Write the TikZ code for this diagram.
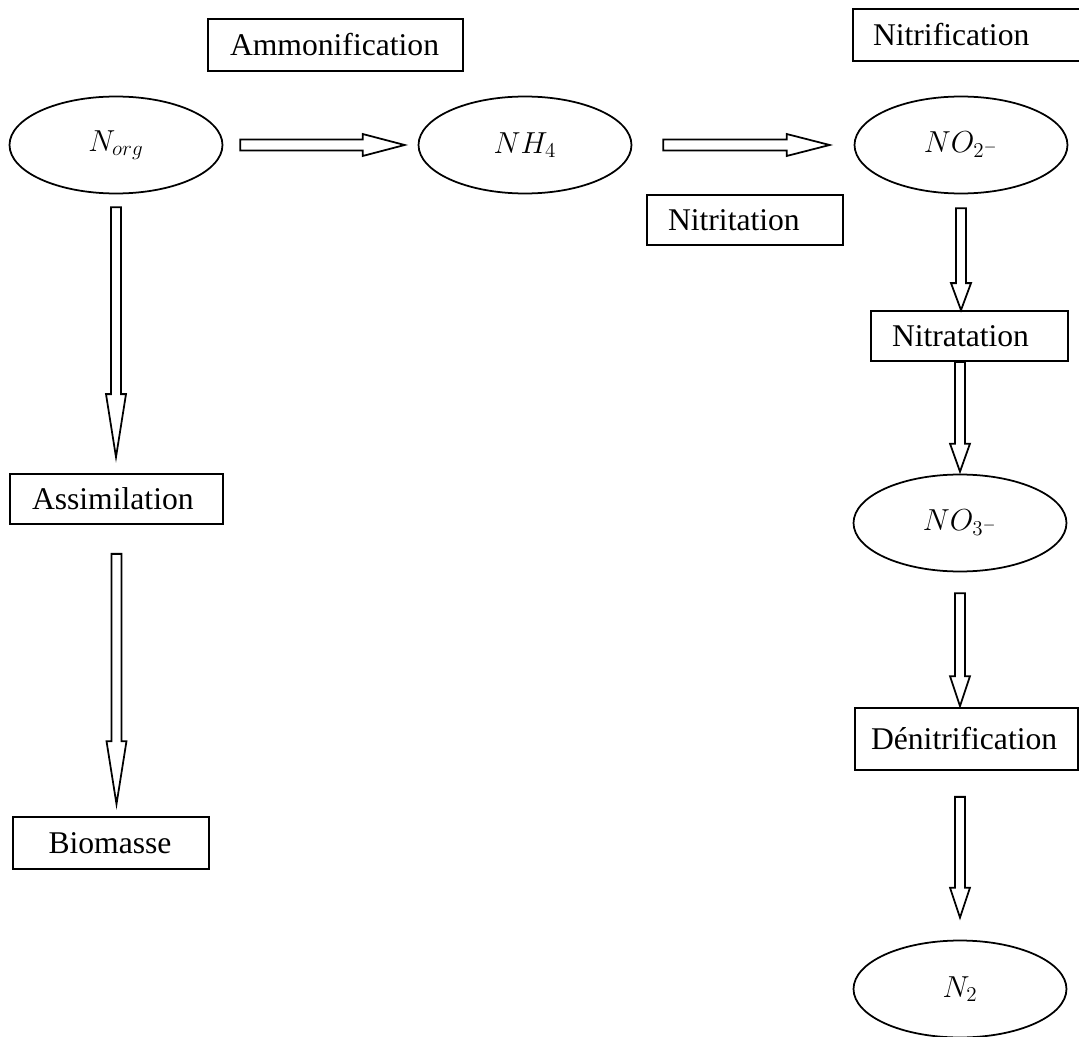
\documentclass[tikz,border=0pt]{standalone}
\usepackage{fontspec}
\setmainfont{Liberation Serif}
\usepackage{tikz}
\usetikzlibrary{calc, shapes.geometric}

\begin{document}
\begin{tikzpicture}[x=0.02cm, y=-0.02cm, line width=1pt,
  every node/.style={font=\fontsize{18}{22}\selectfont},
  box/.style={draw, rectangle, align=left, inner xsep=0.42cm, inner ysep=0pt, minimum height=1.0cm},
  species/.style={draw, ellipse, minimum width=4.26cm, minimum height=1.94cm, inner sep=0pt},
  hblock/.style n args={3}{to path={($(\tikztostart)+(#1,-5.5)$) -- ($(\tikztotarget)+(-#2-#3,-5.5)$) -- ++(0,-5.5) -- ($(\tikztotarget)+(-#2,0)$) -- ($(\tikztotarget)+(-#2-#3,11)$) -- ++(0,-5.5) -- ($(\tikztostart)+(#1,5.5)$) -- cycle}},
  vblock/.style n args={3}{to path={($(\tikztostart)+(-5,#1)$) -- ($(\tikztotarget)+(-5,-#2-#3)$) -- ++(-5,0) -- ($(\tikztotarget)+(0,-#2)$) -- ($(\tikztotarget)+(10,-#2-#3)$) -- ++(-5,0) -- ($(\tikztostart)+(5,#1)$) -- cycle}}]
  \useasboundingbox (0,0) rectangle (1079,1037);

  \node[box, text width=4.22cm, inner xsep=0.44cm, minimum height=1.04cm] (ammon) at (335.5,45) {Ammonification};
  \node[box, text width=3.84cm, inner xsep=0.4cm, minimum height=1.04cm] (nitrif) at (969,35) {Nitrification};
  \node[box, text width=3.08cm] (nitrit) at (745,220) {Nitritation};
  \node[box, text width=3.1cm] (nitrat) at (969.5,336) {Nitratation};
  \node[box, text width=3.38cm, inner xsep=0.44cm] (assim) at (116.5,499) {Assimilation};
  \node[box, text width=2.5cm, inner xsep=0.71cm, minimum height=1.04cm] (biom) at (111,843) {Biomasse};
  \node[box, text width=3.82cm, inner xsep=0.32cm, minimum height=1.24cm] (denit) at (966.5,739) {Dénitrification};

  \node[species] (norg) at (116,145) {$N_{org}$};
  \node[species] (nh4) at (525,145) {$NH_4$};
  \node[species] (no2) at (961,145) {$NO_{2^-}$};
  \node[species] (no3) at (960,523) {$NO_{3^-}$};
  \node[species] (n2) at (960,989) {$N_2$};

  \draw[hblock={17}{13}{42}] (norg.east) to (nh4.west);
  \draw[hblock={31}{24}{43}] (nh4.east) to (no2.west);
  \draw[vblock={13}{16}{63}] (norg.south) to (norg.south |- assim.north);
  \draw[vblock={29}{12}{63}] (assim.south) to (assim.south |- biom.north);
  \draw[vblock={14}{0}{27}] (no2.south) to (no2.south |- nitrat.north);
  \draw[vblock={0}{2}{28}] (nitrat.south -| no3.north) to (no3.north);
  \draw[vblock={21}{1}{30}] (no3.south) to (no3.south |- denit.north);
  \draw[vblock={26}{22}{30}] (denit.south -| n2.north) to (n2.north);
\end{tikzpicture}
\end{document}
